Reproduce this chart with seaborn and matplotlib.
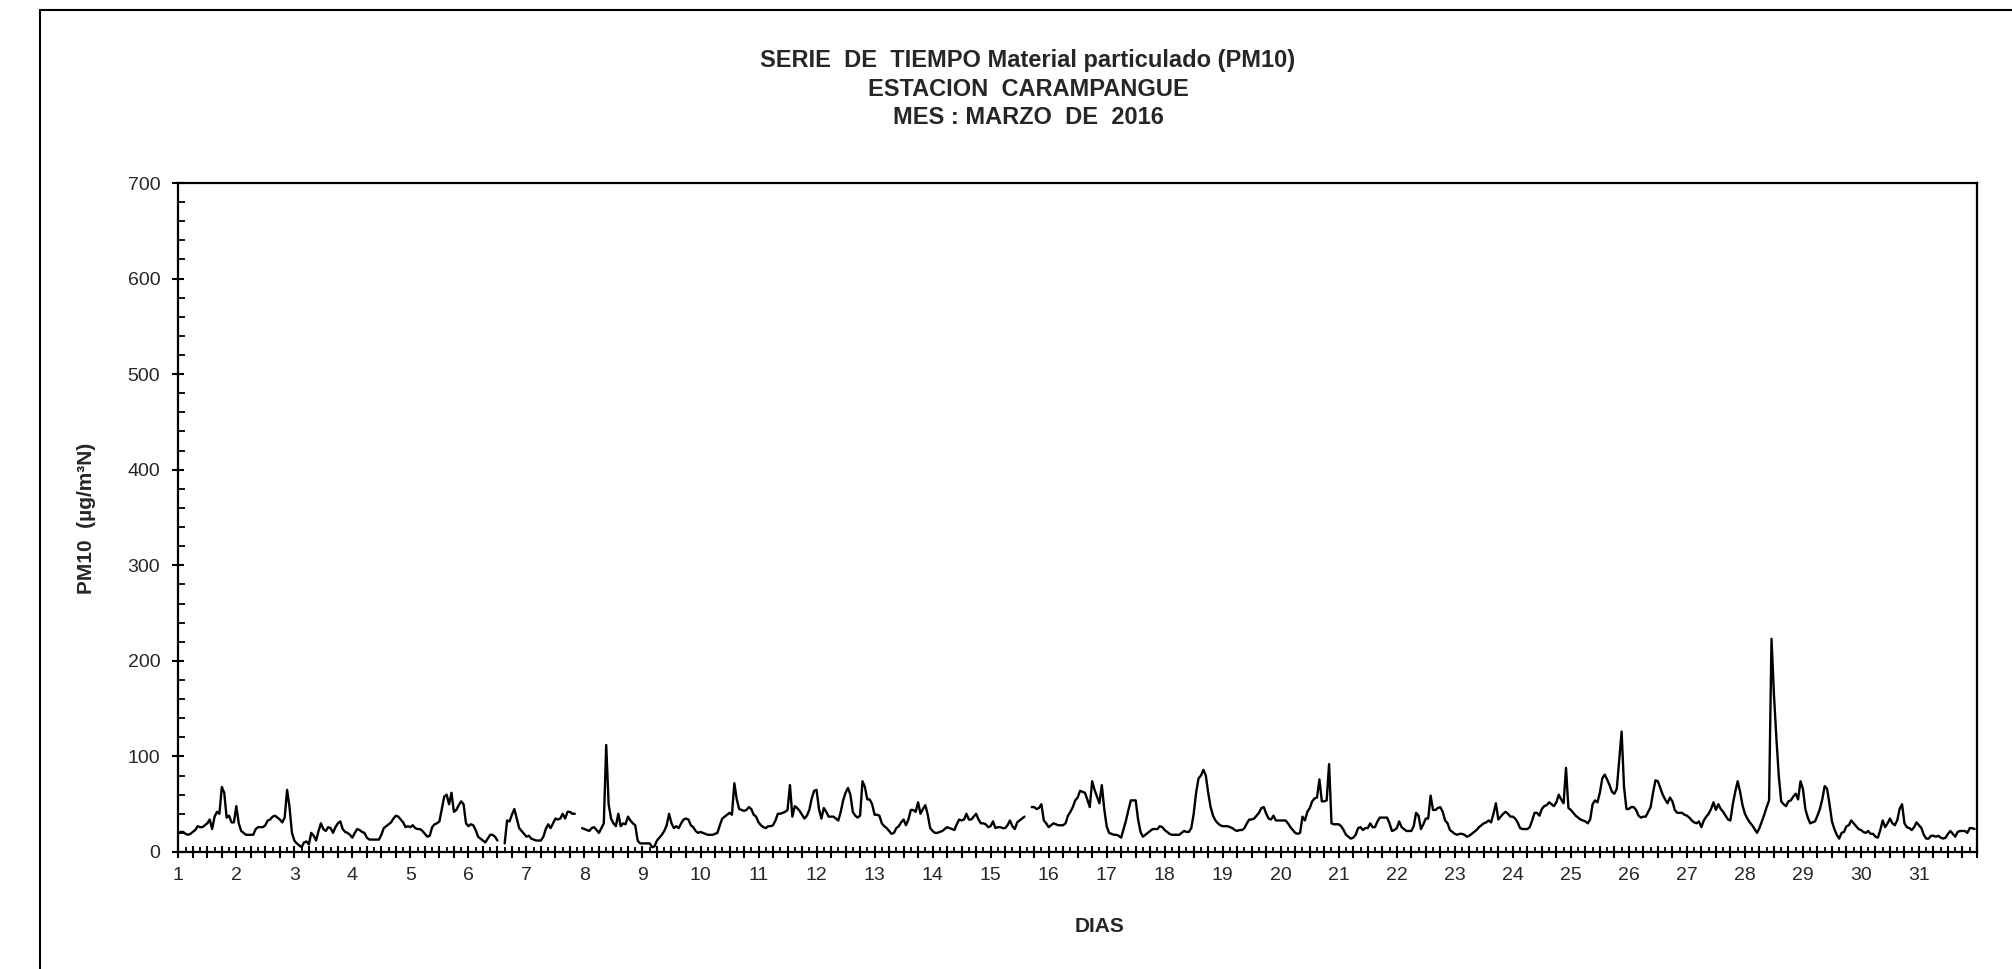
import numpy as np
import pandas as pd
import matplotlib
matplotlib.use("Agg")
import matplotlib.pyplot as plt
from matplotlib.ticker import MultipleLocator, FuncFormatter
from matplotlib.patches import Rectangle
import seaborn as sns

nan = np.nan
# Hourly PM10 (ug/m3N), March 2016, 24 values per day
d01 = [20,21,21,19,18,19,21,23,27,26,26,28,30,34,24,37,42,40,68,62,36,38,31,31]
d02 = [48,30,22,20,18,18,18,18,24,26,26,26,28,33,34,37,38,36,34,31,36,65,47,20]
d03 = [12,9,7,5,10,11,8,20,17,12,22,30,24,22,26,25,20,26,30,32,24,21,20,18]
d04 = [15,20,24,23,21,20,15,13,13,13,13,13,18,25,27,29,31,35,38,37,34,31,26,27]
d05 = [26,28,25,24,24,22,19,16,17,26,29,30,32,45,58,60,50,62,42,44,49,53,50,30]
d06 = [27,29,28,23,16,14,12,10,14,18,18,16,12,nan,nan,9,33,32,39,45,35,25,22,19]
d07 = [16,17,14,13,12,12,12,16,24,29,25,30,35,34,35,40,35,42,42,40,40,nan,nan,25]
d08 = [24,23,22,25,26,23,20,25,30,112,50,35,30,27,40,27,30,29,37,33,30,28,12,9]
d09 = [9,9,9,9,5,6,12,15,18,22,28,40,30,25,27,25,30,34,35,34,28,26,22,20]
d10 = [21,20,19,18,18,18,19,20,28,35,37,39,41,39,72,55,45,44,43,44,47,45,39,37]
d11 = [31,28,26,25,27,27,28,33,40,40,41,42,44,70,37,48,46,43,39,35,38,44,56,64]
d12 = [65,45,35,46,42,37,37,37,35,33,42,54,62,67,60,42,38,36,38,74,68,55,55,50]
d13 = [39,39,38,30,27,25,22,19,20,25,27,31,34,28,34,44,44,42,52,40,45,49,39,25]
d14 = [22,20,20,21,22,24,26,25,24,23,29,34,33,34,40,34,34,37,40,34,30,30,29,26]
d15 = [27,32,25,26,26,25,25,28,33,27,24,31,33,35,37,nan,nan,47,47,45,46,50,33,30]
d16 = [26,28,30,29,28,28,28,30,38,42,47,54,57,64,63,62,55,47,74,65,58,51,70,45]
d17 = [27,20,19,18,18,17,15,24,33,44,54,54,54,34,21,16,18,20,22,24,24,24,27,26]
d18 = [23,21,19,18,18,18,18,20,22,21,21,25,40,62,77,80,86,80,62,47,38,33,30,28]
d19 = [27,27,27,26,25,23,22,23,23,25,30,34,34,35,38,41,46,47,40,35,34,38,33,33]
d20 = [33,33,33,30,26,23,20,19,20,37,33,42,46,53,56,57,76,53,53,54,92,30,29,29]
d21 = [29,27,23,18,16,14,15,18,25,26,23,25,25,30,26,26,32,36,36,36,36,30,22,23]
d22 = [25,32,26,24,22,22,22,27,41,38,24,29,35,35,59,44,44,46,47,42,33,30,23,21]
d23 = [19,18,19,19,18,16,17,19,21,23,26,28,30,31,33,31,40,51,34,37,40,42,40,37]
d24 = [37,35,31,25,24,24,24,26,33,41,41,38,45,48,49,52,50,48,52,60,55,51,88,46]
d25 = [44,41,38,36,34,33,32,30,34,50,54,52,62,77,81,76,70,63,61,66,96,126,68,45]
d26 = [45,47,47,44,38,36,37,37,42,47,62,75,74,67,60,55,51,57,53,44,41,41,41,39]
d27 = [38,36,33,31,30,32,26,33,37,40,45,52,44,50,45,42,38,34,33,50,63,74,63,49]
d28 = [40,35,31,28,24,20,25,32,39,47,54,223,165,120,80,53,50,48,53,54,58,61,55,74]
d29 = [66,45,36,30,31,32,38,45,55,69,66,50,32,24,18,14,20,21,27,28,33,30,27,24]
d30 = [23,21,20,22,19,19,16,15,23,33,26,30,35,30,28,33,45,50,30,26,25,23,26,31]
d31 = [28,25,18,14,14,17,17,16,17,15,14,15,19,22,19,16,21,22,22,22,20,25,25,24]

days = [d01,d02,d03,d04,d05,d06,d07,d08,d09,d10,d11,d12,d13,d14,d15,d16,
        d17,d18,d19,d20,d21,d22,d23,d24,d25,d26,d27,d28,d29,d30,d31]
day_ticks = list(range(1, 32))
y_ticks = list(range(0, 701, 100))

title_lines = ["SERIE  DE  TIEMPO Material particulado (PM10)",
               "ESTACION  CARAMPANGUE",
               "MES : MARZO  DE  2016"]
ylabel = "PM10  (µg/m³N)"
xlabel = "DIAS"

vals = np.concatenate([np.asarray(d, dtype=float) for d in days])
x = 1 + np.arange(len(vals)) / 24.0
seg = np.cumsum(np.isnan(vals))
df = pd.DataFrame({"dia": x, "pm10": vals, "seg": seg}).dropna()

sns.set_style("ticks")
plt.rcParams["font.family"] = ["Liberation Sans", "DejaVu Sans"]

W, H = 2012, 969
fig = plt.figure(figsize=(W / 100, H / 100), dpi=100)
ax = fig.add_axes([178.3 / W, 1 - 852 / H, (1977 - 178.3) / W, (852 - 183) / H])

sns.lineplot(data=df, x="dia", y="pm10", units="seg", estimator=None,
             color="black", lw=1.7, ax=ax, legend=False)

ax.set_xlim(1, 32)
ax.set_ylim(0, 700)
ax.xaxis.set_major_locator(MultipleLocator(0.25))
ax.xaxis.set_minor_locator(MultipleLocator(0.125))
ax.xaxis.set_major_formatter(FuncFormatter(
    lambda v, p: str(int(round(v))) if abs(v - round(v)) < 1e-6 and int(round(v)) in day_ticks else ""))
ax.set_yticks(y_ticks)
ax.yaxis.set_minor_locator(MultipleLocator(20))

ax.tick_params(axis="x", which="major", direction="inout", length=8, width=1.5,
               labelsize=14, pad=7, color="black")
ax.tick_params(axis="x", which="minor", direction="in", length=3.5, width=1.3, color="black")
ax.tick_params(axis="y", which="major", direction="inout", length=8, width=1.5,
               labelsize=14, pad=9, color="black")
ax.tick_params(axis="y", which="minor", direction="in", length=5, width=1.3, color="black")
for s in ax.spines.values():
    s.set_visible(True)
    s.set_linewidth(1.6)
    s.set_color("black")

ax.set_xlabel("")
ax.set_ylabel("")
fig.text(1100 / W, 1 - 926 / H, xlabel, ha="center", va="center",
         fontsize=15, fontweight="bold")
fig.text(86 / W, 1 - 518 / H, ylabel, ha="center", va="center", rotation=90,
         fontsize=15, fontweight="bold")
for line, yy in zip(title_lines, [61, 89, 117]):
    fig.text(1028 / W, 1 - yy / H, line, ha="center", va="center",
             fontsize=17, fontweight="bold")

fig.patches.append(Rectangle((40 / W, -0.1), 1.2, 1.1 - 10 / H,
                             transform=fig.transFigure, fill=False,
                             lw=1.5, edgecolor="black"))

fig.savefig("out.png", dpi=100)
